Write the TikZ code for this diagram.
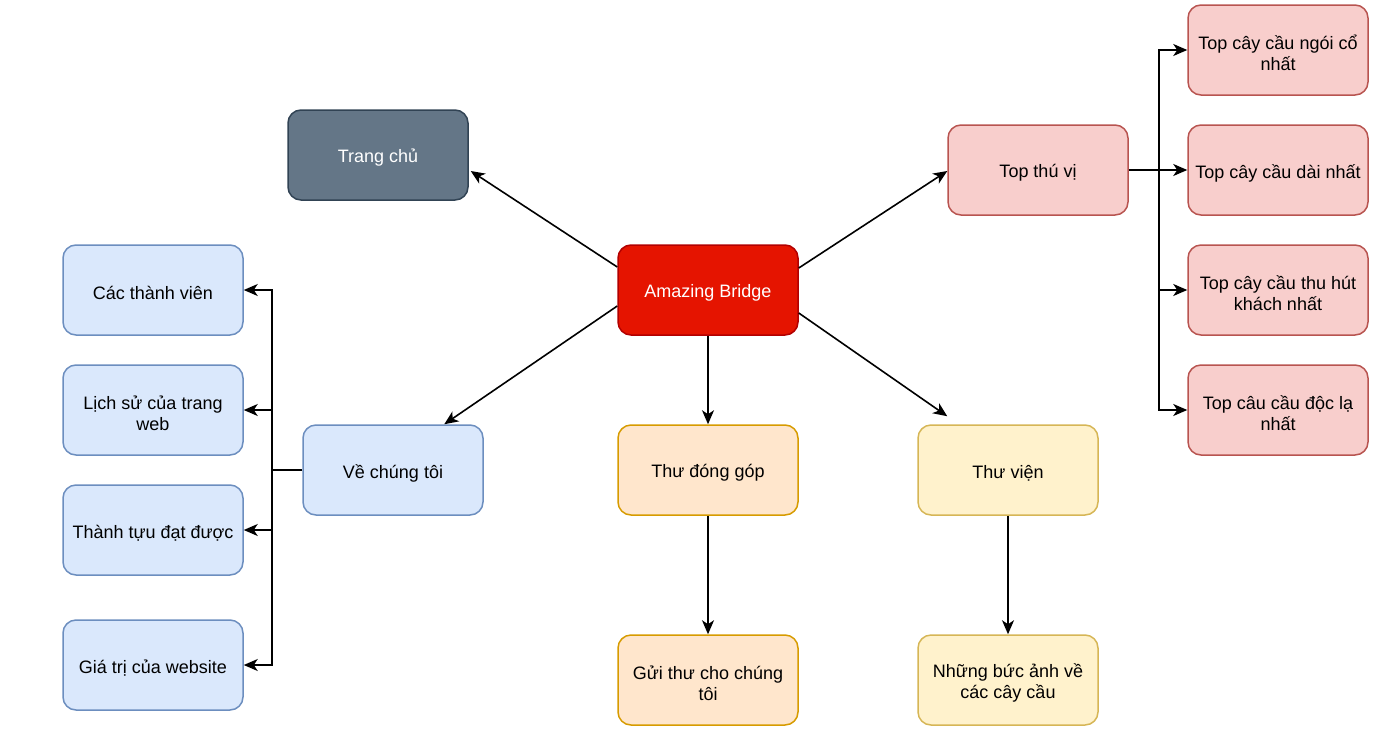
\documentclass[tikz,border=0pt]{standalone}
\usepackage{fontspec}
\setmainfont{Liberation Sans}
\usetikzlibrary{arrows.meta,calc}
\definecolor{grayF}{HTML}{647687}\definecolor{grayD}{HTML}{314354}
\definecolor{redF}{HTML}{E51400}\definecolor{redD}{HTML}{B20000}
\definecolor{pinkF}{HTML}{F8CECC}\definecolor{pinkD}{HTML}{B85450}
\definecolor{blueF}{HTML}{DAE8FC}\definecolor{blueD}{HTML}{6C8EBF}
\definecolor{orF}{HTML}{FFE6CC}\definecolor{orD}{HTML}{D79B00}
\definecolor{yeF}{HTML}{FFF2CC}\definecolor{yeD}{HTML}{D6B656}
\tikzset{
  lbl/.style={align=center,inner sep=0pt,yshift=-3pt,font=\fontsize{18}{21}\selectfont},
  box/.style={rectangle,rounded corners=13pt,minimum width=180pt,minimum height=90pt,
    line width=1.5pt,inner sep=0pt},
  grayb/.style={box,fill=grayF,draw=grayD},
  redb/.style={box,fill=redF,draw=redD},
  pinkb/.style={box,fill=pinkF,draw=pinkD},
  blueb/.style={box,fill=blueF,draw=blueD},
  orb/.style={box,fill=orF,draw=orD},
  yeb/.style={box,fill=yeF,draw=yeD},
  conn/.style={line width=1.6pt,draw=black,-{Stealth[length=14pt,width=12pt,inset=4pt]}},
  link/.style={line width=1.6pt,draw=black}
}
\begin{document}
\begin{tikzpicture}[x=1pt,y=-1pt]
\useasboundingbox (0,0) rectangle (1383,739);
\node[grayb,label={[lbl,text=white]center:Trang chủ}] (trang) at (378,155) {};
\node[redb,label={[lbl,text=white]center:Amazing Bridge}] (ab) at (708,290) {};
\node[pinkb,label={[lbl]center:Top thú vị}] (tv) at (1038,170) {};
\node[pinkb,label={[lbl]center:Top cây cầu ngói cổ\\nhất}] (r1) at (1278,50) {};
\node[pinkb,label={[lbl]center:Top cây cầu dài nhất}] (r2) at (1278,170) {};
\node[pinkb,label={[lbl]center:Top cây cầu thu hút\\khách nhất}] (r3) at (1278,290) {};
\node[pinkb,label={[lbl]center:Top câu cầu độc lạ\\nhất}] (r4) at (1278,410) {};
\node[blueb,label={[lbl]center:Các thành viên}] (l1) at (153,290) {};
\node[blueb,label={[lbl]center:Lịch sử của trang\\web}] (l2) at (153,410) {};
\node[blueb,label={[lbl]center:Thành tựu đạt được}] (l3) at (153,530) {};
\node[blueb,label={[lbl]center:Giá trị của website}] (l4) at (153,665) {};
\node[blueb,label={[lbl]center:Về chúng tôi}] (ve) at (393,470) {};
\node[orb,label={[lbl]center:Thư đóng góp}] (td) at (708,470) {};
\node[yeb,label={[lbl]center:Thư viện}] (tvien) at (1008,470) {};
\node[orb,label={[lbl]center:Gửi thư cho chúng\\tôi}] (gui) at (708,680) {};
\node[yeb,label={[lbl]center:Những bức ảnh về\\các cây cầu}] (anh) at (1008,680) {};

\coordinate (abL1) at ($(ab.west)+(0,-23)$);
\coordinate (abL2) at ($(ab.west)+(0,16)$);
\coordinate (abR1) at ($(ab.east)+(0,-22)$);
\coordinate (abR2) at ($(ab.east)+(0,23)$);
\coordinate (trE) at ($(trang.east)+(2,16)$);
\coordinate (tvE) at ($(tv.west)+(0,1)$);
\coordinate (veE) at ($(ve.north west)+(142,0)$);
\coordinate (tviE) at ($(tvien.north west)+(30,-8)$);

\draw[conn] (abL1) -- (trE);
\draw[conn] (abR1) -- (tvE);
\draw[conn] (abL2) -- (veE);
\draw[conn] (abR2) -- (tviE);
\draw[conn] (ab.south) -- (td.north);
\draw[conn] (td.south) -- (gui.north);
\draw[conn] (tvien.south) -- (anh.north);

\coordinate (rj) at ($(tv.east)+(30,0)$);
\draw[link] (tv.east) -- (rj);
\draw[conn] (rj) |- (r1.west);
\draw[conn] (rj) -- (r2.west);
\draw[conn] (rj) |- (r3.west);
\draw[conn] (rj) |- (r4.west);

\coordinate (lj) at ($(ve.west)+(-30,0)$);
\draw[link] (ve.west) -- (lj);
\draw[conn] (lj) |- (l1.east);
\draw[conn] (lj) |- (l2.east);
\draw[conn] (lj) |- (l3.east);
\draw[conn] (lj) |- (l4.east);
\end{tikzpicture}
\end{document}
